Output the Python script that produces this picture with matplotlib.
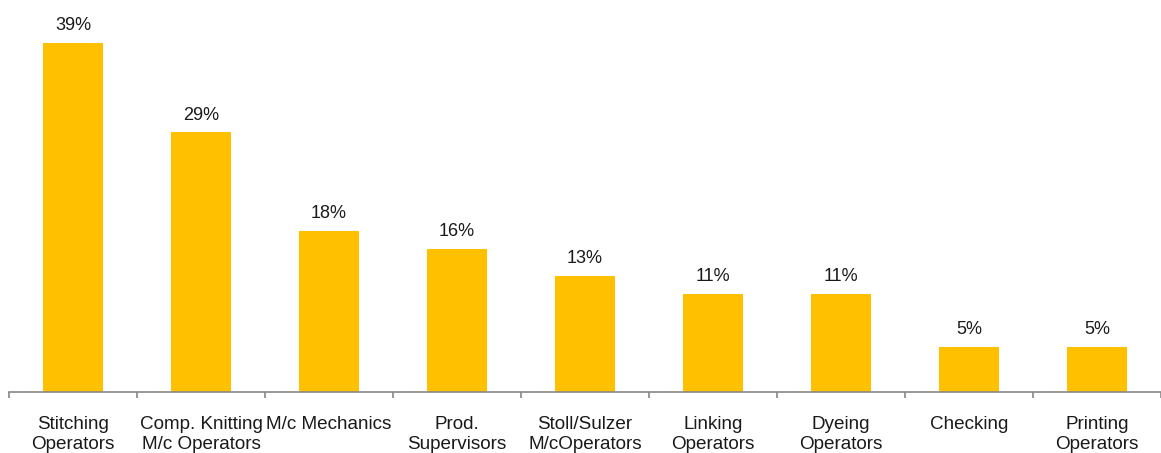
import matplotlib
matplotlib.use("Agg")
import matplotlib.pyplot as plt
import numpy as np

categories = ["Stitching\nOperators", "Comp. Knitting\nM/c Operators", "M/c Mechanics",
              "Prod.\nSupervisors", "Stoll/Sulzer\nM/cOperators", "Linking\nOperators",
              "Dyeing\nOperators", "Checking", "Printing\nOperators"]
values = [39, 29, 18, 16, 13, 11, 11, 5, 5]
labels = ["39%", "29%", "18%", "16%", "13%", "11%", "11%", "5%", "5%"]

plt.rcParams['font.family'] = ['Liberation Sans', 'DejaVu Sans']

W, H = 1161, 453
step = 128.5
left = 9
fig = plt.figure(figsize=(W/100, H/100), dpi=100)
ax = fig.add_axes([left/W, 61/H, (W - left)/W, 392/H])
x = np.arange(len(categories))
ax.bar(x, values, width=0.468, color="#FFC000")
ax.set_xlim(-0.5, (W - left)/step - 0.5)
ax.set_ylim(0, 43.8)
for xi, v, l in zip(x, values, labels):
    ax.text(xi, v + 1.0, l, ha="center", va="bottom", fontsize=13, color="#1a1a1a")

for s in ["top", "right", "left"]:
    ax.spines[s].set_visible(False)
ax.spines["bottom"].set_color("#888888")
ax.spines["bottom"].set_linewidth(1.2)
ax.set_yticks([])
ax.set_xticks(x)
ax.set_xticklabels(categories, fontsize=13.6, color="#1a1a1a", linespacing=1.28)
ax.tick_params(axis="x", which="major", length=0, pad=17)
ax.set_xticks(np.arange(-0.5, len(categories)), minor=True)
ax.tick_params(axis="x", which="minor", length=4, width=1.2, color="#888888", direction="out")

fig.savefig("out.png", dpi=100)
